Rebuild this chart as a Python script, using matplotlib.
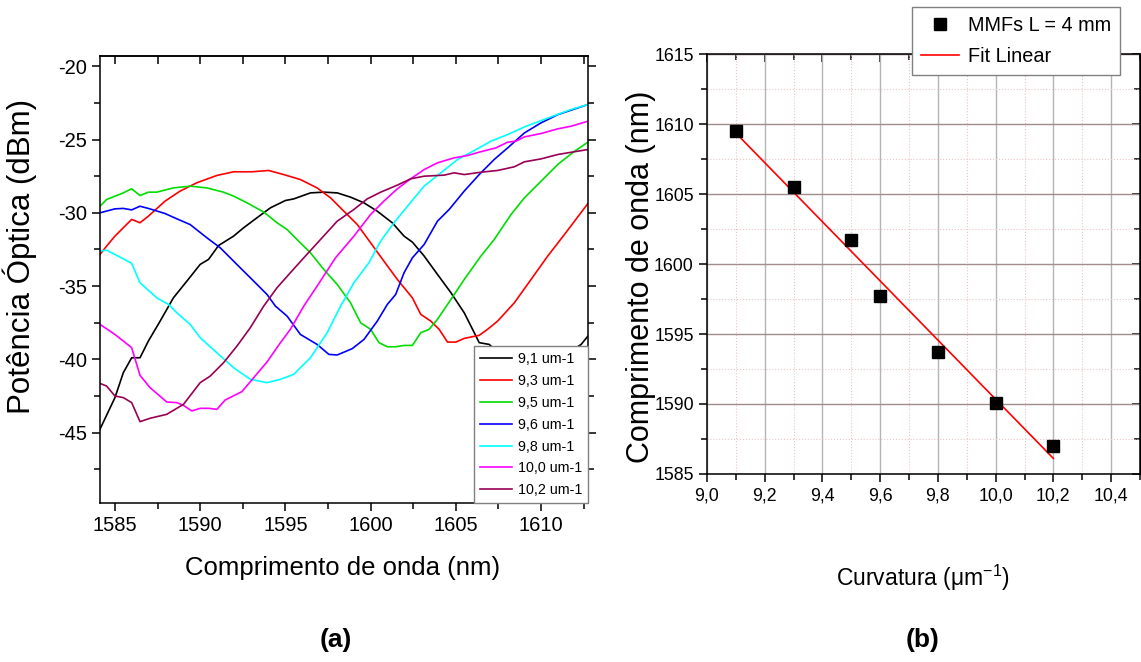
import numpy as np
import matplotlib
matplotlib.use('Agg')
import matplotlib.pyplot as plt
from matplotlib.ticker import MultipleLocator, NullFormatter, FuncFormatter

plt.rcParams['font.family'] = ['Liberation Sans', 'DejaVu Sans']
plt.rcParams['axes.unicode_minus'] = False
plt.rcParams['mathtext.fontset'] = 'custom'
plt.rcParams['mathtext.rm'] = 'Liberation Sans'
plt.rcParams['mathtext.it'] = 'Liberation Sans:italic'

# --- (a) transmission spectra, one per curvature ---
wl_91 = [1584.12, 1585.0, 1585.49, 1585.98, 1586.47, 1586.96, 1587.65, 1588.43, 1589.22, 1590.0,
         1590.49, 1591.08, 1591.96, 1592.55, 1593.33, 1594.12, 1595.0, 1595.49, 1596.47, 1597.25,
         1598.04, 1598.82, 1599.61, 1600.39, 1601.27, 1601.96, 1602.45, 1603.14, 1603.92, 1604.71,
         1605.49, 1606.08, 1606.37, 1606.96, 1607.45, 1609.02, 1610.98, 1611.76, 1612.35, 1612.75]
p_91 = [-44.77, -42.61, -40.91, -39.89, -39.89, -38.75, -37.39, -35.80, -34.66, -33.52,
        -33.18, -32.23, -31.59, -31.02, -30.34, -29.66, -29.16, -29.05, -28.64, -28.59,
        -28.64, -28.93, -29.32, -29.89, -30.68, -31.59, -32.00, -32.95, -34.20, -35.45,
        -36.82, -38.18, -38.86, -38.98, -39.55, -39.89, -39.77, -39.43, -38.98, -38.41]

wl_93 = [1584.12, 1584.51, 1585.0, 1585.49, 1585.98, 1586.47, 1586.96, 1587.94, 1588.82, 1589.80,
         1590.98, 1591.96, 1593.04, 1594.02, 1594.90, 1595.88, 1596.86, 1597.65, 1598.43, 1599.22,
         1600.0, 1600.78, 1601.57, 1602.45, 1602.94, 1603.53, 1604.02, 1604.51, 1605.0, 1605.49,
         1606.37, 1606.86, 1607.45, 1608.43, 1609.41, 1610.39, 1611.37, 1612.75]
p_93 = [-32.84, -32.27, -31.59, -31.02, -30.45, -30.68, -30.23, -29.20, -28.52, -27.95,
        -27.45, -27.20, -27.20, -27.11, -27.39, -27.73, -28.30, -28.98, -29.89, -30.80,
        -32.05, -33.30, -34.55, -35.80, -36.93, -37.39, -37.95, -38.82, -38.82, -38.57,
        -38.36, -37.95, -37.39, -36.14, -34.55, -32.95, -31.48, -29.36]

wl_95 = [1584.12, 1584.51, 1585.49, 1585.98, 1586.47, 1586.96, 1587.45, 1588.43, 1589.41, 1590.39,
         1591.37, 1591.96, 1592.75, 1593.73, 1594.51, 1595.10, 1595.88, 1596.47, 1597.25, 1598.04,
         1598.82, 1599.41, 1600.0, 1600.49, 1600.98, 1601.47, 1601.96, 1602.45, 1602.94, 1603.43,
         1603.92, 1604.71, 1605.49, 1606.47, 1607.25, 1608.24, 1609.02, 1610.0, 1610.98, 1611.96,
         1612.75]
p_95 = [-29.55, -29.09, -28.64, -28.36, -28.82, -28.59, -28.59, -28.30, -28.18, -28.30,
        -28.59, -28.86, -29.32, -29.95, -30.68, -31.14, -32.05, -32.73, -33.86, -34.89,
        -36.14, -37.50, -37.95, -38.86, -39.14, -39.14, -39.05, -39.05, -38.18, -37.95,
        -37.27, -35.91, -34.55, -32.95, -31.82, -30.11, -28.98, -27.84, -26.70, -25.80,
        -25.18]

wl_96 = [1584.12, 1585.0, 1585.49, 1585.98, 1586.47, 1586.96, 1587.94, 1588.63, 1589.41, 1590.39,
         1591.18, 1592.35, 1593.14, 1593.92, 1594.41, 1595.10, 1595.88, 1596.86, 1597.55, 1598.04,
         1598.92, 1599.61, 1600.39, 1600.98, 1601.47, 1601.96, 1602.45, 1603.14, 1603.92, 1604.61,
         1605.49, 1606.37, 1607.25, 1608.04, 1609.02, 1610.0, 1610.98, 1612.75]
p_96 = [-30.00, -29.73, -29.70, -29.80, -29.55, -29.70, -30.05, -30.41, -30.80, -31.70,
        -32.39, -33.75, -34.66, -35.57, -36.36, -37.05, -38.30, -38.98, -39.66, -39.70,
        -39.27, -38.64, -37.39, -36.25, -35.57, -34.09, -33.07, -32.16, -30.57, -29.77,
        -28.52, -27.39, -26.36, -25.57, -24.55, -23.86, -23.30, -22.61]

wl_98 = [1584.12, 1584.51, 1585.49, 1585.98, 1586.47, 1587.45, 1588.14, 1588.63, 1589.41, 1590.0,
         1590.98, 1591.96, 1592.94, 1593.92, 1594.71, 1595.49, 1596.47, 1597.45, 1598.24, 1599.02,
         1599.90, 1600.59, 1601.37, 1602.16, 1603.14, 1604.12, 1605.10, 1606.08, 1607.06, 1608.04,
         1609.02, 1610.59, 1611.76, 1612.75]
p_98 = [-32.61, -32.55, -33.14, -33.45, -34.77, -35.80, -36.25, -36.82, -37.61, -38.52,
        -39.55, -40.57, -41.36, -41.59, -41.36, -41.02, -39.89, -38.18, -36.36, -34.77,
        -33.41, -31.93, -30.68, -29.55, -28.18, -27.27, -26.36, -25.75, -25.11, -24.66,
        -24.14, -23.45, -22.95, -22.61]

wl_100 = [1584.12, 1585.0, 1585.98, 1586.47, 1587.06, 1588.04, 1588.63, 1589.02, 1589.51, 1590.0,
          1590.49, 1590.98, 1591.47, 1592.45, 1593.14, 1593.92, 1594.71, 1595.29, 1596.08, 1596.86,
          1597.94, 1599.02, 1600.0, 1600.78, 1601.57, 1602.35, 1603.14, 1603.92, 1604.90, 1605.69,
          1606.37, 1607.35, 1608.04, 1608.53, 1609.02, 1610.0, 1610.98, 1611.76, 1612.75]
p_100 = [-37.61, -38.30, -39.20, -41.09, -41.93, -42.91, -42.95, -43.14, -43.52, -43.34,
         -43.34, -43.41, -42.77, -42.20, -41.25, -40.18, -38.86, -37.95, -36.36, -35.00,
         -33.07, -31.59, -30.11, -29.20, -28.36, -27.68, -27.05, -26.59, -26.25, -26.09,
         -25.86, -25.57, -25.18, -25.11, -24.82, -24.59, -24.27, -24.09, -23.75]

wl_102 = [1584.12, 1584.51, 1585.0, 1585.49, 1585.98, 1586.47, 1587.06, 1588.04, 1589.02, 1590.0,
          1590.59, 1591.37, 1592.16, 1592.94, 1593.73, 1594.51, 1595.29, 1596.08, 1597.06, 1598.04,
          1599.02, 1599.80, 1600.59, 1601.57, 1602.35, 1603.14, 1604.31, 1604.90, 1605.49, 1606.47,
          1607.45, 1608.43, 1609.02, 1610.0, 1610.98, 1612.75]
p_102 = [-41.64, -41.82, -42.50, -42.61, -42.95, -44.25, -44.02, -43.75, -43.07, -41.59,
         -41.14, -40.23, -39.09, -37.84, -36.36, -35.11, -34.09, -33.07, -31.82, -30.57,
         -29.77, -29.05, -28.59, -28.11, -27.68, -27.50, -27.43, -27.27, -27.39, -27.23,
         -27.11, -26.86, -26.52, -26.32, -26.02, -25.68]

spectra = [
    (wl_91, p_91, '9,1 um-1', 'black'),
    (wl_93, p_93, '9,3 um-1', '#ff0000'),
    (wl_95, p_95, '9,5 um-1', '#00dd00'),
    (wl_96, p_96, '9,6 um-1', '#0000ff'),
    (wl_98, p_98, '9,8 um-1', '#00ffff'),
    (wl_100, p_100, '10,0 um-1', '#ff00ff'),
    (wl_102, p_102, '10,2 um-1', '#990055'),
]

# --- (b) resonance dip vs curvature ---
curvature = [9.1, 9.3, 9.5, 9.6, 9.8, 10.0, 10.2]
dip_wl = [1609.5, 1605.5, 1601.7, 1597.7, 1593.7, 1590.1, 1587.0]

fig = plt.figure(figsize=(11.41, 6.62), dpi=100)

# ---------------- left panel ----------------
ax1 = fig.add_axes([0.0876, 0.2402, 0.4277, 0.6752])
for wl, p, lab, col in spectra:
    ax1.plot(wl, p, color=col, lw=1.2, label=lab)

ax1.set_xlim(1584.12, 1612.75)
ax1.set_ylim(-49.8, -19.3)
ax1.set_xticks([1585, 1590, 1595, 1600, 1605, 1610])
ax1.xaxis.set_minor_locator(MultipleLocator(2.5))
ax1.set_yticks([-45, -40, -35, -30, -25, -20])
ax1.yaxis.set_minor_locator(MultipleLocator(2.5))
ax1.tick_params(which='both', direction='out', right=True, width=1.1, labelsize=14.5)
ax1.tick_params(which='major', length=6)
ax1.tick_params(which='minor', length=4)
for s in ax1.spines.values():
    s.set_linewidth(1.1)

top1 = ax1.secondary_xaxis('top')
top1.xaxis.set_major_locator(MultipleLocator(5))
top1.xaxis.set_minor_locator(MultipleLocator(2.5))
top1.xaxis.set_major_formatter(NullFormatter())
top1.tick_params(which='both', direction='in', length=6, width=1.1)
top1.spines['top'].set_linewidth(1.1)

ax1.set_xlabel('Comprimento de onda (nm)', fontsize=18.5)
ax1.xaxis.set_label_coords(0.498, -0.118)
ax1.set_ylabel('Potência Óptica (dBm)', fontsize=22.5)
ax1.yaxis.set_label_coords(-0.129, 0.551)

leg1 = ax1.legend(loc='lower right', bbox_to_anchor=(1.0, 0.0), borderaxespad=0,
                  fontsize=10.3, handlelength=2.25, handletextpad=0.4, labelspacing=0.55,
                  borderpad=0.4, fancybox=False, framealpha=1, edgecolor='#808080')
leg1.get_frame().set_linewidth(1.0)

# ---------------- right panel ----------------
ax2 = fig.add_axes([0.6196, 0.2840, 0.3795, 0.6344])
ax2.set_xlim(9.0, 10.5)
ax2.set_ylim(1585, 1615)
ax2.set_xticks(np.arange(9.0, 10.41, 0.2))
ax2.xaxis.set_minor_locator(MultipleLocator(0.1))
ax2.yaxis.set_major_locator(MultipleLocator(5))
ax2.yaxis.set_minor_locator(MultipleLocator(2.5))
ax2.xaxis.set_major_formatter(FuncFormatter(lambda v, pos: f'{v:.1f}'.replace('.', ',')))

ax2.grid(True, which='major', axis='x', color='#b4b4b4', lw=1.0)
ax2.grid(True, which='major', axis='y', color='#a08c8c', lw=1.0)
ax2.grid(True, which='minor', color='#ebc4c4', lw=0.8, ls=':')
ax2.set_axisbelow(True)

slope, icpt = np.polyfit(curvature, dip_wl, 1)
fit_x = np.array([curvature[0], curvature[-1]])
ax2.plot(curvature, dip_wl, 's', color='black', ms=8, label='MMFs L = 4 mm', zorder=4)
ax2.plot(fit_x, slope * fit_x + icpt, color='#ff0000', lw=1.2, label='Fit Linear', zorder=3)

ax2.tick_params(which='both', direction='out', width=1.1, labelsize=12.8)
ax2.tick_params(which='major', length=6)
ax2.tick_params(which='minor', length=4)
for s in ax2.spines.values():
    s.set_linewidth(1.1)

top2 = ax2.secondary_xaxis('top')
top2.xaxis.set_major_locator(MultipleLocator(0.2))
top2.xaxis.set_minor_locator(MultipleLocator(0.1))
top2.xaxis.set_major_formatter(NullFormatter())
top2.tick_params(which='major', direction='in', length=6, width=1.1)
top2.tick_params(which='minor', direction='in', length=4, width=1.1)
right2 = ax2.secondary_yaxis('right')
right2.yaxis.set_major_locator(MultipleLocator(5))
right2.yaxis.set_minor_locator(MultipleLocator(2.5))
right2.yaxis.set_major_formatter(NullFormatter())
right2.tick_params(which='major', direction='in', length=6, width=1.1)
right2.tick_params(which='minor', direction='in', length=4, width=1.1)

ax2.set_xlabel('Curvatura (μm$^{-1}$)', fontsize=16.5)
ax2.xaxis.set_label_coords(0.498, -0.212)
ax2.set_ylabel('Comprimento de onda (nm)', fontsize=22)
ax2.yaxis.set_label_coords(-0.118, 0.469)

h, l = ax2.get_legend_handles_labels()
leg2 = fig.legend(h, l, loc='upper right', bbox_to_anchor=(1120 / 1141, 1 - 7 / 662),
                  borderaxespad=0, fontsize=14.3, handlelength=1.9, handletextpad=0.45,
                  labelspacing=0.6, borderpad=0.45, fancybox=False, framealpha=1,
                  edgecolor='#808080')
leg2.get_frame().set_linewidth(1.0)

fig.text(336 / 1141, 1 - 640 / 662, '(a)', fontsize=19, fontweight='bold',
         ha='center', va='center')
fig.text(923 / 1141, 1 - 640 / 662, '(b)', fontsize=19, fontweight='bold',
         ha='center', va='center')

fig.savefig('out.png', dpi=100)
